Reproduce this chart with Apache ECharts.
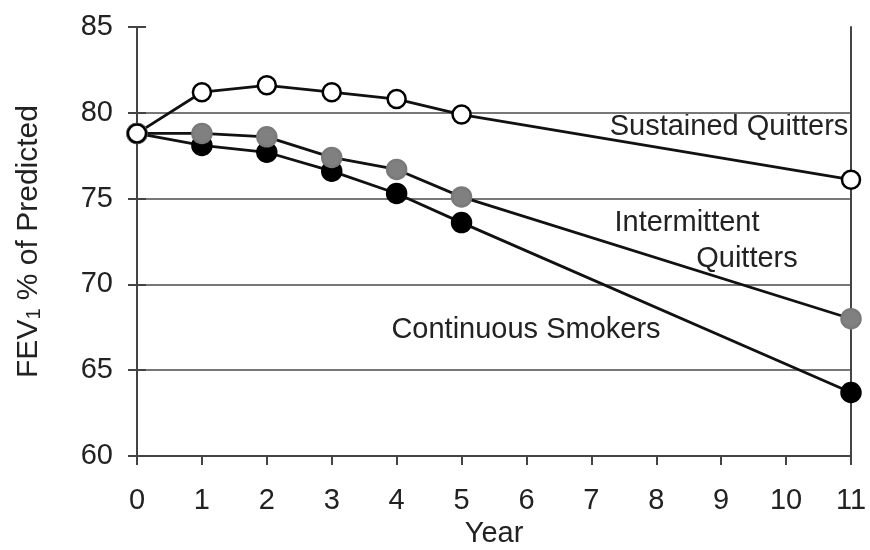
<!DOCTYPE html>
<html>
<head>
<meta charset="utf-8">
<script src="https://cdn.jsdelivr.net/npm/echarts@6/dist/echarts.min.js"></script>
<style>
  html, body { margin: 0; padding: 0; background: #fff; }
  #chart { width: 870px; height: 550px; }
</style>
</head>
<body>
<div id="chart"></div>
<script>
// data
var years = [0, 1, 2, 3, 4, 5, 11];
var sustained = [78.8, 81.2, 81.6, 81.2, 80.8, 79.9, 76.1];
var intermittent = [78.8, 78.8, 78.6, 77.4, 76.7, 75.1, 68.0];
var continuous = [78.8, 78.1, 77.7, 76.6, 75.3, 73.6, 63.7];
var xTicks = [0, 1, 2, 3, 4, 5, 6, 7, 8, 9, 10, 11];
var yTicks = [60, 65, 70, 75, 80, 85];

var pairs = function (ys) {
    return years.map(function (x, i) { return [x, ys[i]] })
}

var myChart = echarts.init(document.getElementById('chart'));
var font = 'Liberation Sans, Arial, sans-serif';
var lineSeries = function (name, data, fill, border, size) {
    return {
        name: name,
        type: 'line',
        data: pairs(data),
        symbol: 'circle',
        symbolSize: size,
        lineStyle: { color: '#111', width: 2.8 },
        itemStyle: { color: fill, borderColor: border, borderWidth: 2.5, opacity: 1 },
        emphasis: { disabled: true },
        z: 3
    }
}

var yBase = {
    type: 'value',
    min: yTicks[0],
    max: yTicks[yTicks.length - 1],
    interval: 5
}

var option = {
    animation: false,
    grid: { left: 137, right: 19, top: 27, bottom: 94, containLabel: false, outerBoundsMode: 'none' },
    xAxis: {
        type: 'value',
        min: xTicks[0],
        max: xTicks[xTicks.length - 1],
        interval: 1,
        name: 'Year',
        nameLocation: 'middle',
        nameGap: 62,
        nameTextStyle: { fontFamily: font, fontSize: 29, color: '#222' },
        axisLine: { lineStyle: { color: '#444', width: 2 } },
        axisTick: { length: 9, lineStyle: { color: '#444', width: 2 } },
        axisLabel: { fontFamily: font, fontSize: 29, color: '#222', margin: 30 },
        splitLine: { show: false }
    },
    yAxis: [
        Object.assign({}, yBase, {
            position: 'left',
            name: '{a|FEV}{s|1}{a| % of Predicted}',
            nameLocation: 'middle',
            nameGap: 93,
            nameTextStyle: {
                rich: {
                    a: { fontFamily: font, fontSize: 30, color: '#222', verticalAlign: 'bottom', lineHeight: 36 },
                    s: { fontFamily: font, fontSize: 20, color: '#222', verticalAlign: 'bottom', lineHeight: 26 }
                }
            },
            axisLine: { show: true, lineStyle: { color: '#444', width: 2 } },
            axisTick: { length: 9, lineStyle: { color: '#444', width: 2 } },
            axisLabel: { fontFamily: font, fontSize: 29, color: '#222', margin: 24 },
            splitLine: {
                show: true,
                lineStyle: { color: ['#777', '#777', '#777', '#777', '#777', 'rgba(0,0,0,0)'], width: 2 }
            }
        }),
        Object.assign({}, yBase, {
            position: 'left',
            axisLine: { show: false },
            axisTick: { show: true, inside: true, length: 9, lineStyle: { color: '#444', width: 2 } },
            axisLabel: { show: false },
            splitLine: { show: false }
        }),
        Object.assign({}, yBase, {
            position: 'right',
            axisLine: { show: true, lineStyle: { color: '#444', width: 2 } },
            axisTick: { show: false },
            axisLabel: { show: false },
            splitLine: { show: false }
        })
    ],
    series: [
        lineSeries('Continuous Smokers', continuous, '#000', '#000', 19),
        lineSeries('Intermittent Quitters', intermittent, '#808080', '#7a7a7a', 19),
        lineSeries('Sustained Quitters', sustained, '#fff', '#000', 18)
    ],
    graphic: [
        { type: 'text', x: 729, y: 127, style: { text: 'Sustained Quitters', font: '29px ' + font, fill: '#222', align: 'center', verticalAlign: 'middle' } },
        { type: 'text', x: 687, y: 223, style: { text: 'Intermittent', font: '29px ' + font, fill: '#222', align: 'center', verticalAlign: 'middle' } },
        { type: 'text', x: 747, y: 259, style: { text: 'Quitters', font: '29px ' + font, fill: '#222', align: 'center', verticalAlign: 'middle' } },
        { type: 'text', x: 526, y: 330, style: { text: 'Continuous Smokers', font: '29px ' + font, fill: '#222', align: 'center', verticalAlign: 'middle' } }
    ]
};
myChart.setOption(option);
</script>
</body>
</html>
